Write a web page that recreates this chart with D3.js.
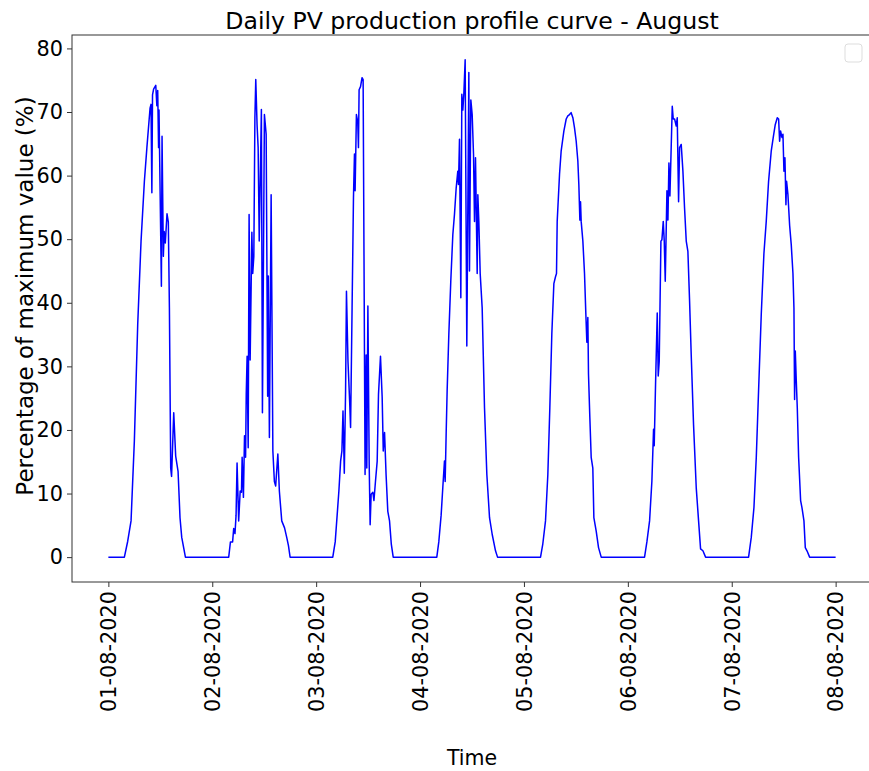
<!DOCTYPE html>
<html>
<head>
<meta charset="utf-8">
<script src="https://cdn.jsdelivr.net/npm/d3@7/dist/d3.min.js"></script>
<style>
  html, body { margin: 0; padding: 0; background: #fff; }
  svg { display: block; font-family: "DejaVu Sans", sans-serif; }
</style>
</head>
<body>
<svg id="chart" width="869" height="771"></svg>
<script>
// ---- data: [hour of day, % of max] per day ----
const day1 = [[0,0],[3.70,0],[4.47,2.5],[5.24,5.7],[6.0,18.2],[6.78,36.6],[7.55,49.7],[8.32,59.1],[8.9,64.4],[9.63,70.6],[9.85,71.2],[10.05,57.3],[10.2,72.7],[10.45,73.6],[10.95,74.2],[11.2,71.0],[11.4,73.4],[11.6,64.4],[11.7,70.3],[12.25,42.6],[12.4,66.2],[12.7,47.3],[12.9,51.2],[13.15,49.4],[13.55,54.0],[13.85,52.7],[14.1,39.2],[14.4,14.0],[14.6,12.7],[15.1,22.7],[15.55,15.9],[16.1,13.5],[16.55,6.2],[16.95,3.1],[17.8,0],[24,0]];
const day2 = [[0,0],[3.8,0],[4.2,2.4],[4.7,2.4],[4.95,4.5],[5.25,3.7],[5.5,6.6],[5.73,14.8],[6.1,5.7],[6.45,10.4],[6.75,10.2],[6.9,15.7],[7.2,9.4],[7.45,19.1],[7.7,15.7],[7.85,25.6],[8.05,31.6],[8.3,17.2],[8.51,53.9],[8.75,31.0],[9.15,51.1],[9.35,44.6],[9.6,47.3],[9.85,69.1],[10.05,75.1],[10.35,68.0],[10.6,64.4],[10.85,49.7],[11.35,70.4],[11.59,22.7],[12.05,69.6],[12.45,66.5],[12.8,25.3],[12.95,44.2],[13.2,18.8],[13.6,57.0],[14.0,16.7],[14.35,11.9],[14.65,11.2],[15.15,16.2],[15.5,10.4],[16.05,5.7],[16.7,4.6],[17.2,3.1],[17.6,1.8],[17.98,0],[24,0]];
const day3 = [[0,0],[3.84,0],[4.4,2.4],[4.85,6.6],[5.25,10.4],[5.65,15.1],[5.95,16.7],[6.2,23.0],[6.5,13.2],[6.8,26.2],[7.0,41.8],[7.35,30.8],[7.75,24.3],[7.95,20.4],[8.3,39.2],[8.62,56.5],[8.85,63.4],[9.0,57.6],[9.3,69.6],[9.6,68.5],[9.77,64.4],[9.92,73.5],[10.25,74.0],[10.6,75.4],[10.85,75.1],[11.3,13.0],[11.55,31.8],[11.7,14.0],[11.95,39.5],[12.25,14.6],[12.47,5.1],[12.7,9.9],[13.1,10.2],[13.35,8.9],[13.7,11.9],[14.1,15.1],[14.4,25.6],[14.86,31.6],[15.25,25.1],[15.5,16.7],[15.8,19.6],[16.15,13.0],[16.55,7.2],[16.95,5.7],[17.35,2.1],[17.8,0],[24,0]];
const day4 = [[0,0],[3.87,0],[4.33,2.4],[4.87,6.6],[5.26,11.0],[5.64,15.1],[5.8,11.9],[6.03,19.4],[6.26,26.2],[6.65,35.1],[7.1,43.4],[7.57,50.7],[7.95,53.9],[8.34,58.0],[8.72,60.7],[8.88,58.6],[9.11,65.7],[9.42,40.8],[9.65,72.8],[9.88,70.3],[10.11,72.8],[10.42,78.2],[10.8,33.2],[11.27,76.2],[11.42,45.0],[11.73,71.9],[12.04,69.6],[12.35,63.4],[12.58,52.8],[12.81,62.8],[13.2,44.6],[13.35,57.0],[13.58,52.8],[13.89,44.6],[14.35,39.2],[14.89,23.5],[15.43,13.0],[16.05,6.2],[16.66,3.6],[17.43,1.0],[17.9,0],[24,0]];
const day5 = [[0,0],[3.83,0],[4.36,2.1],[4.98,5.7],[5.52,13.0],[5.98,23.5],[6.44,35.1],[6.91,43.0],[7.29,44.1],[7.52,44.6],[7.68,52.8],[8.22,60.2],[8.6,63.9],[9.22,67.0],[9.76,68.9],[10.14,69.4],[10.53,69.6],[10.9,69.9],[11.3,69.1],[11.68,67.5],[12.07,65.4],[12.45,62.3],[12.68,58.6],[12.92,53.0],[13.07,55.9],[13.22,52.8],[13.61,49.7],[13.99,44.6],[14.3,38.2],[14.53,33.8],[14.76,37.7],[14.91,28.8],[15.22,22.0],[15.53,15.7],[15.91,14.0],[16.15,6.2],[16.69,4.1],[17.23,1.5],[17.85,0],[24,0]];
const day6 = [[0,0],[3.86,0],[4.4,2.4],[5.02,5.7],[5.55,11.9],[5.94,20.1],[6.09,17.5],[6.4,27.2],[6.79,38.4],[7.02,28.5],[7.25,30.8],[7.64,49.7],[7.87,49.9],[8.18,52.8],[8.41,49.7],[8.64,43.4],[9.03,57.6],[9.26,53.0],[9.49,62.0],[9.72,56.8],[10.26,70.9],[10.49,68.9],[10.8,68.9],[11.18,67.8],[11.41,69.1],[11.72,55.9],[11.95,64.4],[12.33,64.9],[12.72,60.7],[13.1,54.9],[13.49,49.7],[13.87,48.1],[14.26,40.3],[14.64,31.8],[15.18,20.8],[15.8,10.9],[16.34,5.7],[16.8,1.3],[17.34,1.0],[17.96,0],[24,0]];
const day7 = [[0,0],[3.89,0],[4.51,3.1],[5.13,7.8],[5.67,15.7],[6.2,26.2],[6.82,38.2],[7.43,47.7],[7.97,52.8],[8.51,59.1],[9.13,63.9],[9.59,66.0],[10.05,68.0],[10.52,69.1],[10.83,68.9],[11.06,65.4],[11.29,67.0],[11.6,66.0],[11.83,66.5],[12.06,60.7],[12.29,62.8],[12.52,55.4],[12.67,59.1],[12.98,57.0],[13.37,52.2],[13.75,49.1],[14.14,44.6],[14.37,39.2],[14.52,24.8],[14.68,32.4],[14.91,27.7],[15.14,23.5],[15.45,15.7],[15.91,8.9],[16.22,7.8],[16.68,5.7],[16.99,1.5],[17.38,1.0],[17.99,0],[24,0]];

const tickLabels = ["01-08-2020","02-08-2020","03-08-2020","04-08-2020","05-08-2020","06-08-2020","07-08-2020","08-08-2020"];
const yTicks = [0, 10, 20, 30, 40, 50, 60, 70, 80];
const titleText = "Daily PV production profile curve - August";
const xLabelText = "Time";
const yLabelText = "Percentage of maximum value (%)";

// ---- build series in days since 01-08-2020 00:00 ----
const days = [day1, day2, day3, day4, day5, day6, day7];
const series = [];
days.forEach((d, i) => {
  d.forEach(([h, v], j) => {
    if (i > 0 && j === 0) return; // avoid duplicate midnight
    series.push({ t: i + h / 24, v: v });
  });
});

// ---- layout ----
const FONT = "DejaVu Sans, sans-serif";
const svg = d3.select("#chart");
const L = 72, R = 872, T = 35, B = 582;
const nDays = tickLabels.length - 1;
const pad = nDays * 0.05;
const x = d3.scaleLinear().domain([-pad, nDays + pad]).range([L, R]);
const vmax = d3.max(series, d => d.v), vmin = 0;
const ypad = (vmax - vmin) * 0.05;
const y = d3.scaleLinear().domain([vmin - ypad, vmax + ypad]).range([B, T]);

const tickFont = 20.8;

// x axis
const xAxis = d3.axisBottom(x)
  .tickValues(d3.range(0, nDays + 1))
  .tickFormat((d, i) => tickLabels[i])
  .tickSizeOuter(0).tickSize(5).tickPadding(4);
const gx = svg.append("g").attr("transform", `translate(0,${B})`).call(xAxis)
  .attr("font-family", FONT).attr("font-size", tickFont);
gx.select(".domain").remove();
gx.selectAll(".tick line").attr("stroke", "#333").attr("stroke-width", 1);
gx.selectAll(".tick text")
  .attr("fill", "#000")
  .attr("transform", "rotate(-90)")
  .attr("text-anchor", "end")
  .attr("x", -9)
  .attr("y", 0)
  .attr("dy", "0.35em");

// y axis
const yAxis = d3.axisLeft(y).tickValues(yTicks).tickSize(5).tickPadding(4).tickSizeOuter(0);
const gy = svg.append("g").attr("transform", `translate(${L},0)`).call(yAxis)
  .attr("font-family", FONT).attr("font-size", tickFont);
gy.select(".domain").remove();
gy.selectAll(".tick line").attr("stroke", "#333").attr("stroke-width", 1);
gy.selectAll(".tick text").attr("fill", "#000");

// frame
svg.append("rect")
  .attr("x", L).attr("y", T).attr("width", R - L).attr("height", B - T)
  .attr("fill", "none").attr("stroke", "#333").attr("stroke-width", 1);

// line
const line = d3.line().x(d => x(d.t)).y(d => y(d.v));
svg.append("path")
  .datum(series)
  .attr("d", line)
  .attr("fill", "none")
  .attr("stroke", "#0000ff")
  .attr("stroke-width", 1.5)
  .attr("stroke-linejoin", "round");

// empty legend
svg.append("rect")
  .attr("x", 845).attr("y", 44).attr("width", 17).attr("height", 18)
  .attr("rx", 3).attr("fill", "#fff").attr("stroke", "#ddd").attr("stroke-width", 1);

// title & labels
svg.append("text").attr("x", (L + R) / 2).attr("y", 29)
  .attr("text-anchor", "middle").attr("font-size", 23.6).attr("fill", "#000").text(titleText);
svg.append("text").attr("x", (L + R) / 2).attr("y", 765)
  .attr("text-anchor", "middle").attr("font-size", 20.5).attr("fill", "#000").text(xLabelText);
svg.append("text")
  .attr("transform", `translate(33,296) rotate(-90)`)
  .attr("text-anchor", "middle").attr("font-size", 23).attr("fill", "#000").text(yLabelText);
</script>
</body>
</html>
